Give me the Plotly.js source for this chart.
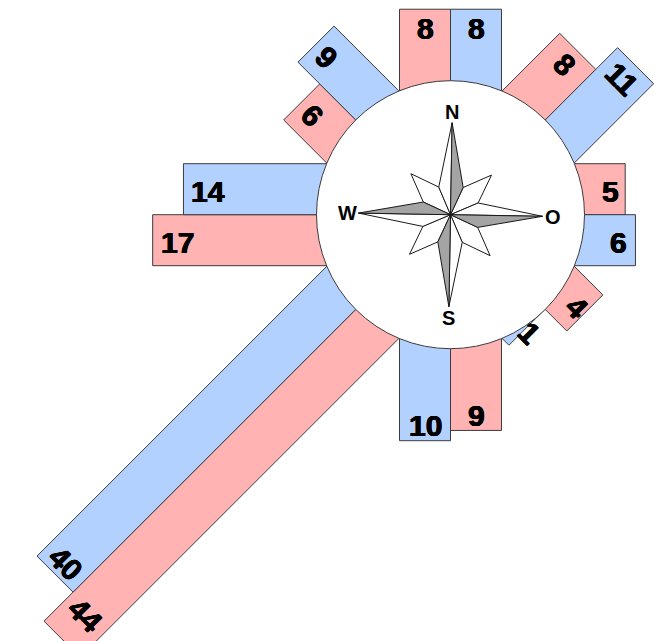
<!DOCTYPE html>
<html><head><meta charset="utf-8">
<script src="https://cdn.plot.ly/plotly-3.0.1.min.js"></script>
<style>html,body{margin:0;padding:0;background:#fff;} #chart{width:654px;height:641px;}</style>
</head><body><div id="chart"></div>
<script>
// ---- data ----
const directions = ['N', 'NO', 'O', 'SO', 'S', 'SW', 'W', 'NW'];
const directionAngles = [0, 45, 90, 135, 180, 225, 270, 315];
const redValues  = [8, 8, 5, 4, 9, 44, 17, 6];
const blueValues = [8, 11, 6, 1, 10, 40, 14, 9];
const compassLabels = ['N', 'O', 'S', 'W'];
const compassLabelAngles = [0, 90, 180, 270];

// ---- styling / geometry ----
const W = 654, H = 641;
const PX = 10.26;              // pixels per value unit
const CX = 450.5, CY = 214.7;  // centre of the rose in pixels
const BASE = 123.4 / PX;       // bars start (value 0) at this radius
const BAR_W = 51 / PX;
const CIRCLE_R = 134 / PX;
const RED = '#ffb3b3', BLUE = '#b3d1ff', EDGE = '#3c3c3c';
const FONT = 'Liberation Sans, Arial, Helvetica, sans-serif';
const HEAVY = '0.45px 0 0 #000, -0.45px 0 0 #000, 0 0.45px 0 #000, 0 -0.45px 0 #000';
const ROT = 1.0; // compass rose tilt (deg, clockwise)
const EDGE_MARGIN = 26; // keep label centres this far (px) inside the page

function P(a, q, th) { // along-axis a, perpendicular (ccw side) q, compass angle th
  const r = th * Math.PI / 180;
  return [a * Math.sin(r) - q * Math.cos(r), a * Math.cos(r) + q * Math.sin(r)];
}
function polar(rad, th) { return P(rad, 0, th); }
function toPx(p) { return [CX + p[0] * PX, CY - p[1] * PX]; }

const traces = [];
const annotations = [];

function addBar(val, th, side, color) {
  const L = BASE + val;
  const q = side * BAR_W;
  const pts = [P(0, 0, th), P(L, 0, th), P(L, q, th), P(0, q, th), P(0, 0, th)];
  traces.push({
    type: 'scatter', mode: 'lines', fill: 'toself', fillcolor: color,
    x: pts.map(p => p[0]), y: pts.map(p => p[1]),
    line: { color: EDGE, width: 1 }, hoverinfo: 'skip', showlegend: false
  });
  const diag = th % 90 !== 0;
  const tAng = diag ? 45 : 0;
  const tr = tAng * Math.PI / 180;
  const readDir = [Math.cos(tr), -Math.sin(tr)];
  const u = P(1, 0, th);
  const par = Math.abs(readDir[0] * u[0] + readDir[1] * u[1]);
  const digits = String(val).length;
  const off = (17 + 8 * (digits - 1) * par) / PX;
  let along = Math.max(L - off, (L + CIRCLE_R) / 2 + 6 / PX);
  // keep the label on the page
  for (let k = 0; k < 200; k++) {
    const px = toPx(P(along, side * BAR_W / 2, th));
    if (px[0] < EDGE_MARGIN || px[0] > W - EDGE_MARGIN || px[1] < EDGE_MARGIN || px[1] > H - EDGE_MARGIN) along -= 1 / PX;
    else break;
  }
  // small shift along the text's own "down" direction (visual centring of digits)
  const down = [-Math.sin(tr), -Math.cos(tr)];
  const lp = P(along, side * BAR_W / 2, th);
  annotations.push({
    x: lp[0] + down[0] * 2 / PX, y: lp[1] + down[1] * 2 / PX, xref: 'x', yref: 'y',
    text: String(val), showarrow: false,
    xanchor: 'center', yanchor: 'middle', textangle: tAng,
    font: { family: FONT, size: 30, color: '#000', weight: 'bold', shadow: HEAVY }
  });
}

for (let i = 0; i < directions.length; i++) {
  addBar(redValues[i], directionAngles[i], +1, RED);
  addBar(blueValues[i], directionAngles[i], -1, BLUE);
}

// ---- circle and compass rose (shapes above the bars) ----
const shapes = [];
shapes.push({ type: 'circle', xref: 'x', yref: 'y', x0: -CIRCLE_R, x1: CIRCLE_R, y0: -CIRCLE_R, y1: CIRCLE_R,
  fillcolor: '#ffffff', line: { color: EDGE, width: 1 }, layer: 'above' });

function pathOf(pts) { return 'M' + pts.map(p => p[0].toFixed(4) + ',' + p[1].toFixed(4)).join('L') + 'Z'; }
const MAIN_TIP = 92 / PX, SEC_TIP = 57 / PX, CORNER_R = 30 / PX, HALF = 24;
const O = [0, 0];
[45, 135, 225, 315].forEach(a => {
  const th = a + ROT;
  shapes.push({ type: 'path', xref: 'x', yref: 'y', layer: 'above',
    path: pathOf([O, polar(CORNER_R, th - 45 + HALF), polar(SEC_TIP, th), polar(CORNER_R, th + 45 - HALF)]),
    fillcolor: '#ffffff', line: { color: '#1a1a1a', width: 1 } });
});
[0, 90, 180, 270].forEach(a => {
  const th = a + ROT;
  shapes.push({ type: 'path', xref: 'x', yref: 'y', layer: 'above',
    path: pathOf([O, polar(CORNER_R, th - HALF), polar(MAIN_TIP, th)]),
    fillcolor: '#ffffff', line: { color: '#1a1a1a', width: 1 } });
  shapes.push({ type: 'path', xref: 'x', yref: 'y', layer: 'above',
    path: pathOf([O, polar(MAIN_TIP, th), polar(CORNER_R, th + HALF)]),
    fillcolor: '#a4a4a4', line: { color: '#1a1a1a', width: 1 } });
});
compassLabels.forEach((t, i) => {
  const p = polar(103 / PX, compassLabelAngles[i] + ROT);
  annotations.push({ x: p[0], y: p[1], xref: 'x', yref: 'y', text: t, showarrow: false,
    xanchor: 'center', yanchor: 'middle',
    font: { family: FONT, size: 20, color: '#000', weight: 'bold' } });
});

const layout = {
  width: W, height: H, margin: { l: 0, r: 0, t: 0, b: 0, pad: 0 },
  paper_bgcolor: '#ffffff', plot_bgcolor: '#ffffff', showlegend: false, hovermode: false,
  xaxis: { visible: false, range: [-CX / PX, (W - CX) / PX], fixedrange: true },
  yaxis: { visible: false, range: [-(H - CY) / PX, CY / PX], fixedrange: true },
  shapes: shapes, annotations: annotations
};
Plotly.newPlot('chart', traces, layout, { displayModeBar: false, staticPlot: true });
</script>
</body></html>
